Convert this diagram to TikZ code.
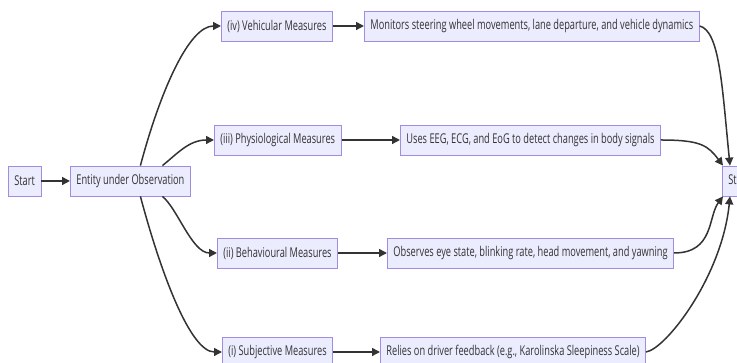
\documentclass[tikz,border=0pt]{standalone}
\usepackage{fontspec}
\setmainfont{Open Sans}[FakeStretch=0.685]
\usetikzlibrary{arrows.meta,calc}
\definecolor{boxfill}{HTML}{ECECFF}
\definecolor{boxline}{HTML}{A08CE0}
\definecolor{ink}{HTML}{333333}
\tikzset{
  box/.style={draw=boxline, line width=0.8pt, fill=boxfill, text=ink,
    minimum height=30pt, inner xsep=6pt, inner ysep=0pt,
    font=\fontsize{13.5pt}{15pt}\selectfont},
  flow/.style={draw=ink, line width=1.5pt, -{Triangle[length=8pt,width=8pt]}}
}
\begin{document}
\begin{tikzpicture}[x=1pt,y=1pt]
\useasboundingbox (0,0) rectangle (737,363);
\node[box, anchor=west] (start) at (8,182) {Start};
\node[box, anchor=west] (entity) at (70,182) {Entity under Observation};
\node[box, anchor=west] (iv) at (221,337) {(iv) Vehicular Measures};
\node[box, anchor=west] (mon) at (364,337) {Monitors steering wheel movements, lane departure, and vehicle dynamics};
\node[box, anchor=west] (iii) at (214,223) {(iii) Physiological Measures};
\node[box, anchor=west] (uses) at (400,223) {Uses EEG, ECG, and EoG to detect changes in body signals};
\node[box, anchor=west] (ii) at (217,110) {(ii) Behavioural Measures};
\node[box, anchor=west] (obs) at (387,110) {Observes eye state, blinking rate, head movement, and yawning};
\node[box, anchor=west] (i) at (222,11) {(i) Subjective Measures};
\node[box, anchor=west] (rel) at (380,11) {Relies on driver feedback (e.g., Karolinska Sleepiness Scale)};
\node[box, anchor=west] (stop) at (722,182) {Stop};

\draw[flow] (start) -- (entity);
\draw[flow] ([xshift=10pt]entity.north) .. controls +(20,75) and +(-32,0) .. (iv.west);
\draw[flow] ([xshift=32pt]entity.north) .. controls +(15,12) and +(-25,0) .. (iii.west);
\draw[flow] ([xshift=32pt]entity.south) .. controls +(15,-12) and +(-25,0) .. (ii.west);
\draw[flow] ([xshift=10pt]entity.south) .. controls +(20,-75) and +(-32,0) .. (i.west);
\draw[flow] (iv) -- (mon);
\draw[flow] (iii) -- (uses);
\draw[flow] (ii) -- (obs);
\draw[flow] (i) -- (rel);
\draw[flow] (mon.east) .. controls +(20,-5) and +(-8,80) .. ([xshift=8pt]stop.north west);
\draw[flow] (uses.east) .. controls +(40,0) and +(-15,20) .. ([xshift=1pt]stop.north west);
\draw[flow] (obs.east) .. controls +(40,0) and +(-15,-20) .. ([xshift=1pt]stop.south west);
\draw[flow] (rel.east) .. controls +(20,3) and +(-8,-80) .. ([xshift=8pt]stop.south west);
\end{tikzpicture}
\end{document}
